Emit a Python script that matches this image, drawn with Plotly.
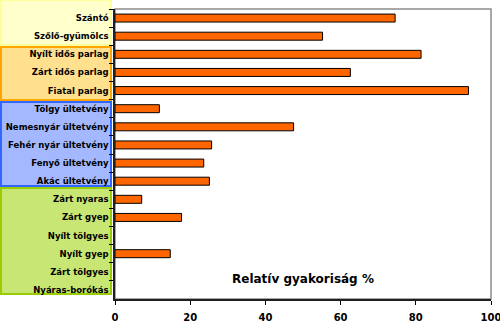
import plotly.graph_objects as go

categories = ["Szántó", "Szőlő-gyümölcs", "Nyílt idős parlag", "Zárt idős parlag",
              "Fiatal parlag", "Tölgy ültetvény", "Nemesnyár ültetvény",
              "Fehér nyár ültetvény", "Fenyő ültetvény", "Akác ültetvény",
              "Zárt nyaras", "Zárt gyep", "Nyílt tölgyes", "Nyílt gyep",
              "Zárt tölgyes", "Nyáras-borókás"]
values = [74.5, 55.2, 81.4, 62.6, 94.0, 11.8, 47.5, 25.7, 23.6, 25.1,
          7.1, 17.7, 0, 14.7, 0, 0]
x_ticks = [0, 20, 40, 60, 80, 100]
x_title = "Relatív gyakoriság %"

# label group boxes: (top px, bottom px, fill, border)
groups = [
    (0, 45, "#FFFFCC", "#FFFF99"),
    (47, 100, "#FFE08E", "#FFA500"),
    (102, 186, "#A3B8FF", "#3366FF"),
    (188, 294, "#C8E673", "#99CC00"),
]

W, H = 500, 325
ml, mr, mt, mb = 115, 9, 9, 26
ph = H - mt - mb
pw = W - ml - mr

font_fam = "Comic Sans MS, DejaVu Sans, sans-serif"

fig = go.Figure()
fig.add_trace(go.Bar(
    y=categories, x=values, orientation="h", width=0.44,
    marker=dict(color="#FF6600",
                line=dict(color="#000000", width=[1 if v > 0 else 0 for v in values])),
    hoverinfo="skip", showlegend=False))

shapes = []
for top, bot, fill, border in groups:
    shapes.append(dict(type="rect", xref="paper", yref="paper",
                       x0=(1 - ml) / pw, x1=(111 - ml) / pw,
                       y0=(H - mb - bot) / ph, y1=(H - mb - top) / ph,
                       fillcolor=fill, line=dict(color=border, width=2),
                       layer="below"))
shapes.append(dict(type="rect", xref="paper", yref="paper", x0=0, x1=1, y0=0, y1=1,
                   line=dict(color="#8C8C8C", width=1.5), layer="below"))

fig.update_layout(
    width=W, height=H,
    margin=dict(l=ml, r=mr, t=mt, b=mb, autoexpand=False),
    paper_bgcolor="white", plot_bgcolor="white",
    shapes=shapes,
    font=dict(family=font_fam, size=9, color="black"),
    xaxis=dict(range=[0, 100], tickvals=x_ticks, ticks="outside", ticklen=4,
               tickcolor="black", showgrid=False, zeroline=False,
               showline=True, linecolor="#202020", linewidth=1.5,
               ticklabelstandoff=4, automargin=False, ticklabeloverflow="allow",
               tickfont=dict(family=font_fam, size=10, color="black", weight="bold")),
    yaxis=dict(type="category", categoryorder="array", categoryarray=categories,
               autorange="reversed", tickson="boundaries", ticks="outside",
               ticklen=4, tickcolor="black", showgrid=False, zeroline=False,
               showline=True, linecolor="#202020", linewidth=1.5,
               automargin=False, ticklabelstandoff=3,
               tickfont=dict(family=font_fam, size=8.5, color="black", weight="bold")),
    annotations=[dict(text=x_title, x=50, xref="x", y=(H - mb - 288) / ph, yref="paper",
                      showarrow=False,
                      font=dict(family=font_fam, size=12, color="black", weight="bold"))],
)

fig.write_html("out.html", config={"displayModeBar": False},
               post_script="document.body.style.margin='0';document.body.style.overflow='hidden';")
